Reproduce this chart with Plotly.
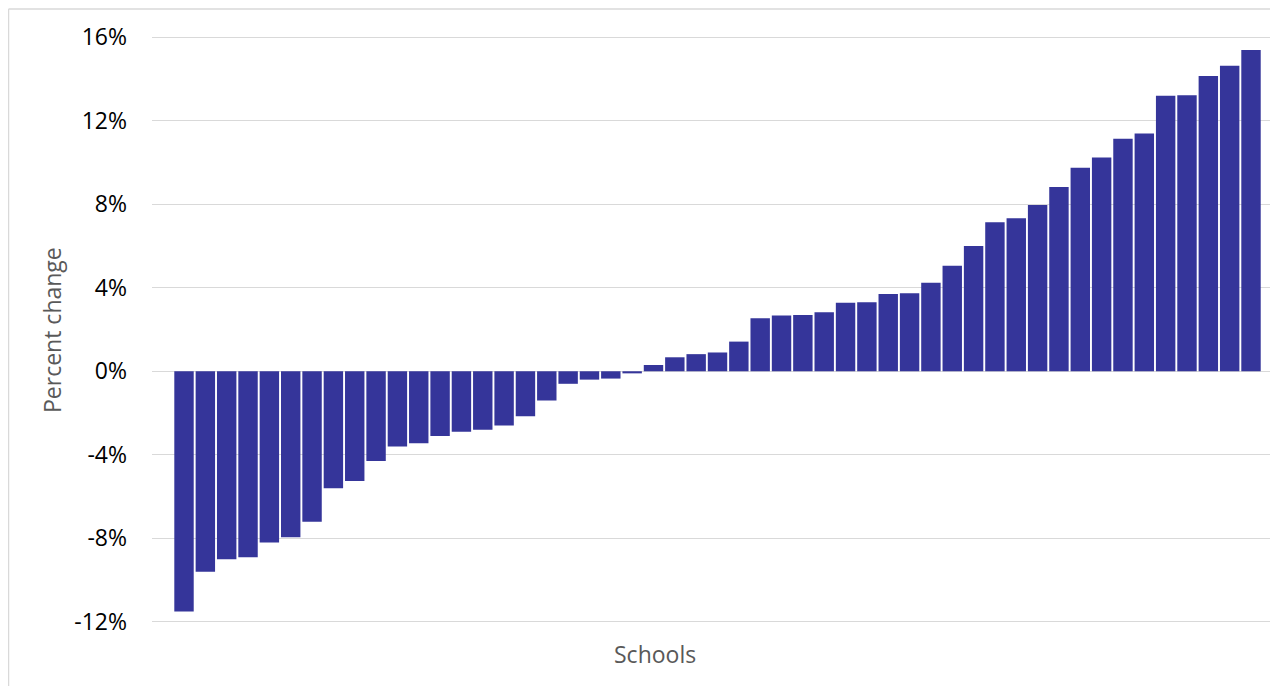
import plotly.graph_objects as go

# Percent change per school (sorted)
pct_change = [
    -11.5, -9.6, -9.0, -8.9, -8.2, -7.95, -7.2, -5.6, -5.25, -4.3,
    -3.6, -3.45, -3.1, -2.9, -2.8, -2.6, -2.15, -1.4, -0.6, -0.4,
    -0.35, -0.1,
    0.30, 0.67, 0.82, 0.90, 1.42, 2.54, 2.67, 2.69, 2.82, 3.28,
    3.30, 3.70, 3.73, 4.24, 5.05, 6.0, 7.14, 7.33, 7.96, 8.82,
    9.74, 10.24, 11.13, 11.39, 13.19, 13.21, 14.14, 14.63, 15.38,
]
schools = [f"School {i + 1}" for i in range(len(pct_change))]
y_ticks = [-12, -8, -4, 0, 4, 8, 12, 16]
y_tick_labels = [f"{v}%" for v in y_ticks]

# page body has an 8px default margin; work in page pixels and convert
OFF = 8
W, H = 1278, 686
ymin, ymax = -12.1, 16.1
ppu = (621.5 - 37.5) / 28.0          # px per percent
top_page = 37.5 - (ymax - 16) * ppu
bot_page = 621.5 + (-12 - ymin) * ppu
left_page = 152.0
slot = 21.34                          # px per category

L = left_page - OFF
R = 0
T = top_page - OFF
B = H - (bot_page - OFF)
pw, ph = W - L - R, H - T - B


def px(xp):
    return (xp - left_page) / pw


def py(yp):
    return (bot_page - yp) / ph


font_family = "Open Sans"

fig = go.Figure(
    go.Bar(
        x=schools,
        y=pct_change,
        marker=dict(color="#35359a", line=dict(width=0)),
        hoverinfo="x+y",
    )
)

fig.update_layout(
    width=W,
    height=H,
    margin=dict(l=L, r=R, t=T, b=B, pad=0),
    paper_bgcolor="white",
    plot_bgcolor="white",
    bargap=0.09,
    showlegend=False,
    font=dict(family=font_family, size=23, color="#000000"),
    xaxis=dict(
        type="category",
        range=[-1.5, -1.5 + pw / slot],
        showticklabels=False,
        showgrid=False,
        zeroline=False,
        showline=False,
        ticks="",
    ),
    yaxis=dict(
        range=[ymin, ymax],
        tickvals=y_ticks,
        ticktext=y_tick_labels,
        showgrid=True,
        gridcolor="#d9d9d9",
        gridwidth=1.3,
        zeroline=False,
        showline=False,
        ticks="",
        ticklabelstandoff=24,
        tickfont=dict(family=font_family, size=23, color="#000000"),
    ),
    annotations=[
        dict(
            text="Schools",
            xref="paper", yref="paper",
            x=px(655), y=py(654),
            xanchor="center", yanchor="middle",
            showarrow=False,
            font=dict(family=font_family, size=23, color="#595959"),
        ),
        dict(
            text="Percent change",
            xref="paper", yref="paper",
            x=px(52), y=py(330),
            xanchor="center", yanchor="middle",
            textangle=-90,
            showarrow=False,
            font=dict(family=font_family, size=23, color="#595959"),
        ),
    ],
    shapes=[
        dict(
            type="line", xref="paper", yref="paper",
            x0=px(8.5), x1=px(8.5),
            y0=py(720), y1=py(9.5),
            line=dict(color="#d9d9d9", width=1.5),
        ),
        dict(
            type="line", xref="paper", yref="paper",
            x0=px(8.5), x1=px(1320),
            y0=py(9.5), y1=py(9.5),
            line=dict(color="#d9d9d9", width=1.5),
        ),
    ],
)

fig.write_html("out.html")
